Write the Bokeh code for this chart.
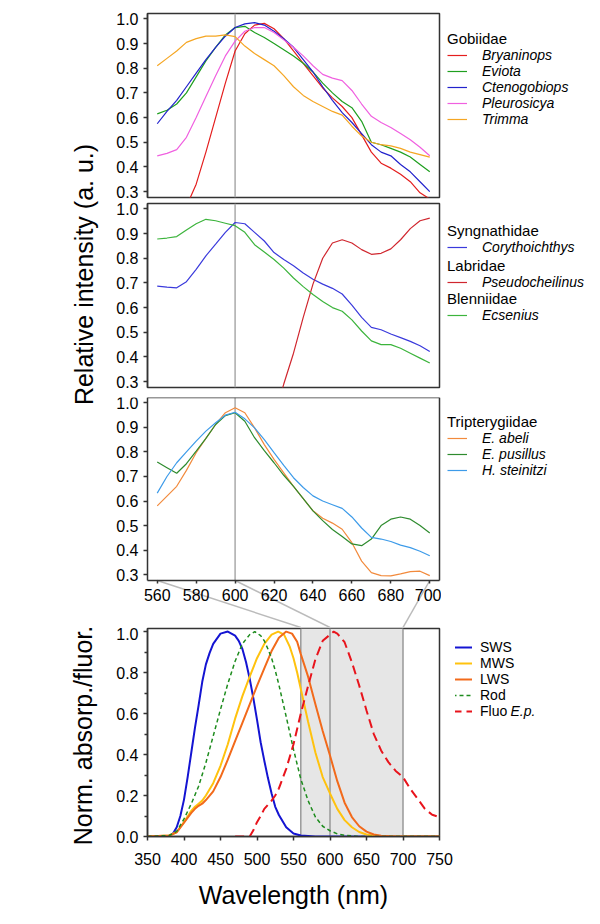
import math
from bokeh.plotting import figure
from bokeh.models import (Range1d, FixedTicker, PrintfTickFormatter, Span, BoxAnnotation,
                          Legend, LegendItem, Label, LinearAxis)
from bokeh.layouts import column, row
from bokeh.embed import file_html
from bokeh.resources import INLINE

FONT = "Liberation Sans"

# ---------------- data ----------------
wl_top = [560, 565, 570, 575, 580, 585, 590, 595, 600, 605, 610, 615, 620, 625, 630,
          635, 640, 645, 650, 655, 660, 665, 670, 675, 680, 685, 690, 695, 700]

# Gobiidae
bryaninops_wl = [575, 580, 585, 590, 595, 600, 605, 610, 615, 620, 625, 630, 635, 640,
                 645, 650, 655, 660, 665, 670, 675, 680, 685, 690, 695, 700]
bryaninops = [0.24, 0.33, 0.46, 0.60, 0.74, 0.87, 0.94, 0.975, 0.982, 0.96, 0.92, 0.87, 0.82,
              0.77, 0.72, 0.68, 0.645, 0.60, 0.53, 0.46, 0.415, 0.395, 0.37, 0.34, 0.295, 0.27]
eviota = [0.615, 0.63, 0.655, 0.70, 0.765, 0.83, 0.885, 0.935, 0.965, 0.97, 0.945, 0.925, 0.90,
          0.875, 0.85, 0.82, 0.785, 0.74, 0.70, 0.665, 0.64, 0.585, 0.50, 0.49, 0.475, 0.46,
          0.44, 0.41, 0.38]
ctenogobiops = [0.575, 0.625, 0.67, 0.725, 0.78, 0.835, 0.885, 0.93, 0.965, 0.98, 0.985, 0.975,
                0.95, 0.92, 0.885, 0.835, 0.785, 0.725, 0.67, 0.62, 0.58, 0.535, 0.49, 0.46,
                0.445, 0.41, 0.38, 0.34, 0.30]
pleurosicya = [0.445, 0.455, 0.47, 0.52, 0.60, 0.685, 0.77, 0.85, 0.91, 0.95, 0.965, 0.965,
               0.945, 0.915, 0.885, 0.85, 0.81, 0.775, 0.76, 0.75, 0.71, 0.655, 0.605, 0.58,
               0.56, 0.535, 0.51, 0.48, 0.445]
trimma = [0.81, 0.84, 0.87, 0.905, 0.92, 0.93, 0.93, 0.935, 0.928, 0.89, 0.86, 0.835, 0.81,
          0.77, 0.725, 0.69, 0.665, 0.645, 0.625, 0.61, 0.565, 0.525, 0.50, 0.49, 0.485, 0.475,
          0.46, 0.45, 0.44]

# Syngnathidae / Labridae / Blenniidae
corythoichthys = [0.687, 0.683, 0.68, 0.705, 0.755, 0.81, 0.857, 0.905, 0.945, 0.94, 0.905,
                  0.87, 0.823, 0.795, 0.77, 0.74, 0.715, 0.695, 0.678, 0.655, 0.61, 0.56, 0.52,
                  0.51, 0.493, 0.478, 0.463, 0.445, 0.422]
pseudocheilinus_wl = [620, 625, 630, 635, 640, 645, 650, 655, 660, 665, 670, 675, 680, 685,
                      690, 695, 700]
pseudocheilinus = [0.15, 0.29, 0.415, 0.56, 0.695, 0.80, 0.862, 0.875, 0.862, 0.835, 0.816,
                   0.82, 0.838, 0.875, 0.92, 0.952, 0.963]
ecsenius = [0.878, 0.882, 0.888, 0.915, 0.94, 0.958, 0.952, 0.942, 0.932, 0.905, 0.855, 0.825,
            0.795, 0.76, 0.72, 0.685, 0.653, 0.625, 0.60, 0.585, 0.55, 0.505, 0.465, 0.45,
            0.45, 0.435, 0.415, 0.395, 0.375]

# Tripterygiidae
e_abeli = [0.58, 0.62, 0.66, 0.725, 0.797, 0.855, 0.912, 0.96, 0.98, 0.96, 0.898, 0.83, 0.77,
           0.715, 0.66, 0.61, 0.56, 0.53, 0.51, 0.485, 0.43, 0.355, 0.308, 0.296, 0.295,
           0.303, 0.312, 0.314, 0.296]
e_pusillus = [0.759, 0.736, 0.713, 0.752, 0.803, 0.855, 0.912, 0.948, 0.96, 0.925, 0.858,
              0.805, 0.756, 0.705, 0.66, 0.61, 0.56, 0.52, 0.484, 0.455, 0.425, 0.418, 0.445,
              0.50, 0.526, 0.535, 0.526, 0.50, 0.47]
h_steinitzi = [0.632, 0.70, 0.756, 0.80, 0.844, 0.885, 0.919, 0.95, 0.962, 0.935, 0.898, 0.85,
               0.797, 0.745, 0.695, 0.655, 0.621, 0.60, 0.585, 0.57, 0.535, 0.49, 0.452,
               0.445, 0.435, 0.42, 0.41, 0.395, 0.377]

# Photoreceptor absorbance and fluorescence
sws_wl = [350, 370, 380, 385, 390, 395, 400, 405, 410, 415, 420, 425, 430, 435, 440, 450, 460,
          470, 475, 480, 485, 490, 495, 500, 505, 510, 515, 520, 525, 530, 540, 550, 560, 580,
          600, 750]
sws = [0, 0, 0.003, 0.015, 0.045, 0.10, 0.18, 0.29, 0.41, 0.53, 0.64, 0.755, 0.84, 0.895, 0.94,
       0.99, 1.0, 0.98, 0.955, 0.915, 0.85, 0.77, 0.675, 0.57, 0.46, 0.37, 0.285, 0.21, 0.145,
       0.105, 0.045, 0.015, 0.005, 0.0, 0.0, 0.0]
mws_wl = [350, 380, 390, 400, 410, 415, 420, 425, 430, 440, 450, 460, 470, 480, 490, 500, 510,
          520, 529, 537, 545, 550, 555, 560, 570, 580, 590, 600, 610, 620, 630, 640, 650, 660,
          680, 750]
mws = [0, 0.005, 0.022, 0.07, 0.125, 0.145, 0.16, 0.175, 0.20, 0.26, 0.345, 0.45, 0.575, 0.685,
       0.78, 0.87, 0.94, 0.985, 1.0, 0.985, 0.925, 0.87, 0.80, 0.72, 0.56, 0.41, 0.29, 0.21,
       0.135, 0.08, 0.045, 0.022, 0.01, 0.004, 0.0, 0.0]
lws_wl = [350, 380, 390, 400, 410, 415, 420, 425, 430, 440, 450, 460, 470, 480, 490, 500, 510,
          520, 530, 540, 548, 555, 560, 570, 580, 590, 600, 610, 620, 630, 640, 650, 660, 670,
          690, 750]
lws = [0, 0.005, 0.02, 0.067, 0.115, 0.135, 0.15, 0.16, 0.178, 0.22, 0.29, 0.375, 0.465, 0.555,
       0.645, 0.735, 0.82, 0.905, 0.97, 1.0, 0.99, 0.95, 0.89, 0.78, 0.645, 0.515, 0.395, 0.27,
       0.165, 0.095, 0.05, 0.024, 0.01, 0.004, 0.0, 0.0]
rod_wl = [350, 380, 390, 400, 410, 420, 430, 440, 450, 460, 470, 480, 490, 497, 505, 510, 515,
          520, 525, 530, 540, 550, 560, 570, 580, 590, 600, 610, 620, 640, 750]
rod = [0, 0.005, 0.025, 0.086, 0.16, 0.245, 0.36, 0.49, 0.62, 0.745, 0.855, 0.94, 0.985, 1.0,
       0.98, 0.955, 0.915, 0.87, 0.81, 0.74, 0.585, 0.425, 0.28, 0.175, 0.095, 0.05, 0.028,
       0.013, 0.006, 0.0, 0.0]
fluo_wl = [470, 480, 490, 495, 500, 505, 510, 515, 520, 525, 530, 540, 550, 560, 570, 580, 590,
           600, 605, 610, 615, 620, 630, 640, 650, 660, 670, 680, 690, 700, 710, 720, 730, 740,
           750]
fluo = [0, 0, 0, 0.03, 0.07, 0.10, 0.135, 0.155, 0.175, 0.20, 0.235, 0.33, 0.45, 0.60, 0.735,
        0.865, 0.955, 0.985, 1.0, 0.99, 0.97, 0.948, 0.85, 0.737, 0.615, 0.50, 0.42, 0.363,
        0.32, 0.29, 0.232, 0.184, 0.135, 0.106, 0.094]

# ticks / reference values
top_yticks = [0.3, 0.4, 0.5, 0.6, 0.7, 0.8, 0.9, 1.0]
top_xticks = [560, 580, 600, 620, 640, 660, 680, 700]
bot_xticks = [350, 400, 450, 500, 550, 600, 650, 700, 750]
bot_yticks = [0.0, 0.2, 0.4, 0.6, 0.8, 1.0]
bot_yminor = [0.1, 0.3, 0.5, 0.7, 0.9]
peak_wl = 600
window = (560, 700)
window_lines = [560, 600, 700]

# ---------------- styles ----------------
FRAME_COL = "#333333"
S = {
    "bry": dict(line_color="#e41e1e", line_width=1.2),
    "evi": dict(line_color="#1f9f1f", line_width=1.2),
    "cte": dict(line_color="#2222cc", line_width=1.2),
    "ple": dict(line_color="#f060e0", line_width=1.2),
    "tri": dict(line_color="#f5a623", line_width=1.2),
    "cor": dict(line_color="#3a3adc", line_width=1.2),
    "pse": dict(line_color="#d0262e", line_width=1.2),
    "ecs": dict(line_color="#3cb43c", line_width=1.2),
    "abe": dict(line_color="#f28a3c", line_width=1.2),
    "pus": dict(line_color="#2e8b2e", line_width=1.2),
    "ste": dict(line_color="#3d9be9", line_width=1.2),
    "sws": dict(line_color="#1414d2", line_width=2),
    "mws": dict(line_color="#ffc20e", line_width=2),
    "lws": dict(line_color="#f26a1b", line_width=2),
    "rod": dict(line_color="#1e8c1e", line_width=1.5, line_dash="4 3"),
    "flu": dict(line_color="#e8141c", line_width=2, line_dash="9 5"),
}

# ---------------- layout constants (px) ----------------
PAGE_W = 598
PAGE_H = 922
LEFT_W = 100
FRAME_W = 292
PAD_L = 47
TOP_W = PAD_L + FRAME_W + 2                    # 341
BOT_W = PAD_L + FRAME_W + 16                   # 355
LFT_W = PAGE_W - LEFT_W - TOP_W                # legend strip beside the upper panels
LFB_W = PAGE_W - LEFT_W - BOT_W                # legend strip beside the lower panel
TOP_X = (555, 705)
TOP_Y = (0.276, 1.022)
BOT_X = (350, 750)
BOT_Y = (0.0, 1.015)
F1, F2, F3 = 184, 184, 183
CONN_H = 47                                    # gap bridged by the connectors
B1 = (13, 3)
B2 = (3, 5)
B3 = (5, 0)
H_TOP = sum(B1) + F1 + sum(B2) + F2 + sum(B3) + F3 + CONN_H    # 627
F4 = 208
B4 = (1, PAGE_H - H_TOP - 1 - F4)
X_LFT = LEFT_W + TOP_W                         # page x of the upper legend strip
X_LFB = LEFT_W + BOT_W                         # page x of the lower legend strip
TITLE_H = 17
ITEM_H = 16

COMMON = dict(toolbar_location=None, output_backend="svg", frame_align=False)


def style_axis(ax, size="16px"):
    ax.major_label_text_font = FONT
    ax.major_label_text_font_size = size
    ax.major_label_text_color = "black"
    ax.axis_line_color = FRAME_COL
    ax.axis_line_width = 1.5
    ax.major_tick_line_color = FRAME_COL
    ax.major_tick_line_width = 1.5
    ax.minor_tick_line_color = FRAME_COL
    ax.minor_tick_line_width = 1.5
    ax.major_tick_in = 0
    ax.major_tick_out = 4
    ax.minor_tick_in = 0
    ax.minor_tick_out = 0
    ax.major_label_standoff = 5


def top_panel(frame_h, borders):
    p = figure(width=TOP_W, height=borders[0] + frame_h + borders[1],
               x_range=Range1d(*TOP_X), y_range=Range1d(*TOP_Y),
               x_axis_location=None,
               min_border_left=PAD_L, min_border_right=TOP_W - PAD_L - FRAME_W,
               min_border_top=borders[0], min_border_bottom=borders[1],
               outline_line_color=FRAME_COL, outline_line_width=1.5, **COMMON)
    p.grid.visible = False
    p.yaxis.ticker = FixedTicker(ticks=top_yticks)
    p.yaxis.formatter = PrintfTickFormatter(format="%.1f")
    style_axis(p.yaxis[0])
    p.add_layout(Span(location=peak_wl, dimension="height", line_color="#aaaaaa",
                      line_width=1.5, level="underlay"))
    return p


# ---------------- panel 1 ----------------
p1 = top_panel(F1, B1)
p1.line(bryaninops_wl, bryaninops, **S["bry"])
p1.line(wl_top, eviota, **S["evi"])
p1.line(wl_top, ctenogobiops, **S["cte"])
p1.line(wl_top, pleurosicya, **S["ple"])
p1.line(wl_top, trimma, **S["tri"])

# ---------------- panel 2 ----------------
p2 = top_panel(F2, B2)
p2.line(wl_top, corythoichthys, **S["cor"])
p2.line(pseudocheilinus_wl, pseudocheilinus, **S["pse"])
p2.line(wl_top, ecsenius, **S["ecs"])

# ---------------- panel 3: frame covers the whole canvas below its top border ----------------
x_per_px = (TOP_X[1] - TOP_X[0]) / FRAME_W
y_per_px = (TOP_Y[1] - TOP_Y[0]) / F3
X3 = (TOP_X[0] - PAD_L * x_per_px, TOP_X[1] + (TOP_W - PAD_L - FRAME_W) * x_per_px)
Y3_LOW = TOP_Y[0] - CONN_H * y_per_px
p3 = figure(width=TOP_W, height=B3[0] + F3 + CONN_H, x_range=Range1d(*X3),
            y_range=Range1d(Y3_LOW, TOP_Y[1]), x_axis_location=None, y_axis_location=None,
            min_border_left=0, min_border_right=0, min_border_top=B3[0], min_border_bottom=0,
            outline_line_color=None, **COMMON)
p3.grid.visible = False
# box: left (with ticks), bottom (wavelength ticks), top and right edges
y3_axis = LinearAxis(fixed_location=TOP_X[0], bounds=TOP_Y, ticker=FixedTicker(ticks=top_yticks),
                     formatter=PrintfTickFormatter(format="%.1f"))
style_axis(y3_axis)
p3.add_layout(y3_axis, "left")
wl_axis = LinearAxis(fixed_location=TOP_Y[0], bounds=TOP_X, ticker=FixedTicker(ticks=top_xticks))
style_axis(wl_axis)
wl_axis.major_tick_out = 3
wl_axis.major_label_standoff = 5
p3.add_layout(wl_axis, "below")
for place, loc, bnds in (("above", TOP_Y[1], TOP_X), ("right", TOP_X[1], TOP_Y)):
    edge = LinearAxis(fixed_location=loc, ticker=FixedTicker(ticks=[]), bounds=bnds)
    style_axis(edge)
    edge.major_tick_out = 0
    p3.add_layout(edge, place)
p3.segment(x0=[peak_wl], y0=[TOP_Y[0]], x1=[peak_wl], y1=[TOP_Y[1]], line_color="#aaaaaa",
           line_width=1.5, level="underlay")
# connectors from the wavelength axis to the shaded window below
scale = (TOP_X[1] - TOP_X[0]) / (BOT_X[1] - BOT_X[0])
conn_x1 = [TOP_X[0] + (v - BOT_X[0]) * scale for v in window_lines]
p3.segment(x0=window_lines, y0=[TOP_Y[0]] * len(window_lines), x1=conn_x1,
           y1=[Y3_LOW] * len(window_lines), line_color="#bbbbbb", line_width=1.5)
p3.line(wl_top, e_abeli, **S["abe"])
p3.line(wl_top, e_pusillus, **S["pus"])
p3.line(wl_top, h_steinitzi, **S["ste"])

# ---------------- panel 4 ----------------
p4 = figure(width=BOT_W, height=PAGE_H - H_TOP, x_range=Range1d(*BOT_X),
            y_range=Range1d(*BOT_Y),
            min_border_left=PAD_L, min_border_right=BOT_W - PAD_L - FRAME_W,
            min_border_top=B4[0], min_border_bottom=B4[1],
            outline_line_color=FRAME_COL, outline_line_width=1.5, **COMMON)
p4.grid.visible = False
p4.xaxis.ticker = FixedTicker(ticks=bot_xticks)
p4.yaxis.ticker = FixedTicker(ticks=bot_yticks, minor_ticks=bot_yminor)
p4.yaxis.formatter = PrintfTickFormatter(format="%.1f")
style_axis(p4.xaxis[0])
style_axis(p4.yaxis[0])
p4.yaxis.minor_tick_out = 3
p4.xaxis.major_label_standoff = 12
p4.xaxis.axis_label = "Wavelength (nm)"
p4.xaxis.axis_label_text_font = FONT
p4.xaxis.axis_label_text_font_size = "25px"
p4.xaxis.axis_label_text_font_style = "normal"
p4.xaxis.axis_label_text_color = "black"
p4.xaxis.axis_label_standoff = 13

p4.add_layout(BoxAnnotation(left=window[0], right=window[1], fill_color="#e6e6e6",
                            fill_alpha=1, line_color=None, level="underlay"))
for v in window_lines:
    p4.add_layout(Span(location=v, dimension="height", line_color="#999999",
                       line_width=1.5, level="underlay"))
p4.line(sws_wl, sws, **S["sws"])
p4.line(mws_wl, mws, **S["mws"])
p4.line(lws_wl, lws, **S["lws"])
p4.line(rod_wl, rod, **S["rod"])
p4.line(fluo_wl, fluo, **S["flu"])

# ---------------- y titles (left strip, page pixel coordinates) ----------------
tf = figure(width=LEFT_W, height=PAGE_H, x_range=Range1d(0, LEFT_W),
            y_range=Range1d(0, PAGE_H), x_axis_location=None, y_axis_location=None,
            min_border=0, outline_line_color=None, **COMMON)
tf.grid.visible = False
for text, cx, cy in (("Relative intensity (a. u.)", 83, 274), ("Norm. absorp./fluor.", 82, 735)):
    tf.add_layout(Label(x=cx, y=PAGE_H - cy, text=text, angle=math.pi / 2,
                        text_align="center", text_baseline="middle", text_font=FONT,
                        text_font_size="25px", text_color="black"))


# ---------------- legend strips (local px across, page px downwards) ----------------
def strip(width, y_top, y_bottom, borders=(0, 0)):
    f = figure(width=width, height=y_bottom - y_top + borders[0] + borders[1],
               x_range=Range1d(0, width), y_range=Range1d(y_bottom, y_top),
               x_axis_location=None, y_axis_location=None,
               min_border_left=0, min_border_right=0,
               min_border_top=borders[0], min_border_bottom=borders[1],
               outline_line_color=None, **COMMON)
    f.grid.visible = False
    return f


lft = strip(LFT_W, 0, H_TOP)
LFB_TOP = H_TOP + B4[0]
LFB_BOT = LFB_TOP + F4
lfb = strip(LFB_W, LFB_TOP, LFB_BOT, borders=B4)


def add_legend(fig, x0, y_bottom, entries, title, x_px, top_px, italic=True,
               glyph_w=20, standoff=15):
    items = []
    for lbl, key, xs, ys in entries:
        # legend proxy: the series itself, which lies outside this strip's view
        r = fig.line(xs, ys, **S[key])
        items.append(LegendItem(label=lbl, renderers=[r]))
    h = (TITLE_H if title else 0) + ITEM_H * len(items)
    leg = Legend(items=items, location=(x_px - x0, y_bottom - top_px - h),
                 padding=0, margin=0, spacing=0,
                 label_height=ITEM_H, glyph_height=ITEM_H, glyph_width=glyph_w,
                 label_standoff=standoff,
                 label_text_font=FONT, label_text_font_size="14px",
                 label_text_font_style="italic" if italic else "normal",
                 label_text_color="black",
                 border_line_alpha=0, background_fill_alpha=0)
    if title:
        leg.title = title
        leg.title_text_font = FONT
        leg.title_text_font_size = "15px"
        leg.title_text_font_style = "normal"
        leg.title_text_color = "black"
        leg.title_standoff = 0
    fig.add_layout(leg)


LX = 447
add_legend(lft, X_LFT, H_TOP,
           [("Bryaninops", "bry", bryaninops_wl, bryaninops), ("Eviota", "evi", wl_top, eviota),
            ("Ctenogobiops", "cte", wl_top, ctenogobiops),
            ("Pleurosicya", "ple", wl_top, pleurosicya), ("Trimma", "tri", wl_top, trimma)],
           "Gobiidae", LX, 29.5)
add_legend(lft, X_LFT, H_TOP, [("Corythoichthys", "cor", wl_top, corythoichthys)],
           "Syngnathidae", LX, 221.5)
add_legend(lft, X_LFT, H_TOP, [("Pseudocheilinus", "pse", pseudocheilinus_wl, pseudocheilinus)],
           "Labridae", LX, 256.5)
add_legend(lft, X_LFT, H_TOP, [("Ecsenius", "ecs", wl_top, ecsenius)], "Blenniidae", LX, 289.5)
add_legend(lft, X_LFT, H_TOP,
           [("E. abeli", "abe", wl_top, e_abeli), ("E. pusillus", "pus", wl_top, e_pusillus),
            ("H. steinitzi", "ste", wl_top, h_steinitzi)], "Tripterygiidae", LX, 413)
LEG4_TOP = 638.5
LX4 = 452
add_legend(lfb, X_LFB, LFB_BOT,
           [("SWS", "sws", sws_wl, sws), ("MWS", "mws", mws_wl, mws), ("LWS", "lws", lws_wl, lws),
            ("Rod", "rod", rod_wl, rod), ("Fluo", "flu", fluo_wl, fluo)],
           None, LX4, LEG4_TOP, italic=False, glyph_w=20, standoff=8)
lfb.add_layout(Label(x=LX4 - X_LFB + 20 + 8 + 30, y=LEG4_TOP + 4.5 * ITEM_H, text="E.p.",
                     text_font=FONT, text_font_size="14px", text_font_style="italic",
                     text_color="black", text_align="left", text_baseline="middle"))

layout = row(tf, column(row(column(p1, p2, p3), lft), row(p4, lfb)))
open("out.html", "w").write(file_html(layout, INLINE))
